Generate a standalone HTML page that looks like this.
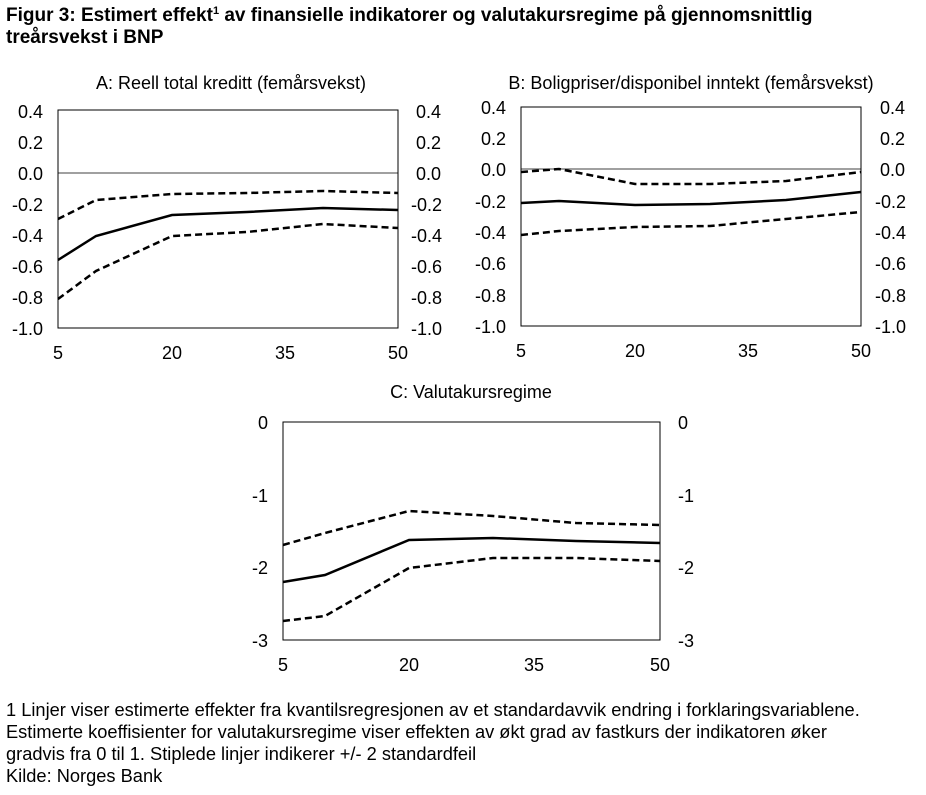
<!DOCTYPE html>
<html><head><meta charset="utf-8"><style>
body{margin:0;background:#fff;width:926px;height:790px;overflow:hidden;font-family:"Liberation Sans",Arial,sans-serif;}
</style></head><body>
<svg width="926" height="790" xmlns="http://www.w3.org/2000/svg" font-family="Liberation Sans, Arial, sans-serif">
<text x="6" y="21" font-size="19" font-weight="bold">Figur 3: Estimert effekt<tspan font-size="11" dy="-7">1</tspan><tspan dy="7"> av finansielle indikatorer og valutakursregime på gjennomsnittlig</tspan></text>
<text x="6" y="43" font-size="19" font-weight="bold">treårsvekst i BNP</text>

<!-- Panel A -->
<text x="231" y="89" font-size="18" text-anchor="middle">A: Reell total kreditt (femårsvekst)</text>
<rect x="58" y="110" width="340" height="218" fill="none" stroke="#000" stroke-width="1"/>
<line x1="58" y1="173" x2="398" y2="173" stroke="#000" stroke-width="0.8"/>
<g font-size="18" text-anchor="end">
<text x="43" y="118">0.4</text><text x="43" y="149">0.2</text><text x="43" y="180">0.0</text><text x="43" y="211">-0.2</text><text x="43" y="242">-0.4</text><text x="43" y="273">-0.6</text><text x="43" y="304">-0.8</text><text x="43" y="335">-1.0</text>
</g>
<g font-size="18">
<text x="416" y="118">0.4</text><text x="416" y="149">0.2</text><text x="416" y="180">0.0</text><text x="411" y="211">-0.2</text><text x="411" y="242">-0.4</text><text x="411" y="273">-0.6</text><text x="411" y="304">-0.8</text><text x="411" y="335">-1.0</text>
</g>
<g font-size="18" text-anchor="middle"><text x="58" y="359">5</text><text x="172" y="359">20</text><text x="285" y="359">35</text><text x="398" y="359">50</text></g>
<polyline points="58,260 96,236 172,215 247,212 323,208 398,210" fill="none" stroke="#000" stroke-width="2.5"/>
<polyline points="58,219 96,200 172,194 247,193 323,191 398,193" fill="none" stroke="#000" stroke-width="2.5" stroke-dasharray="7,4"/>
<polyline points="58,299 96,271 172,236 247,232 323,224 398,228" fill="none" stroke="#000" stroke-width="2.5" stroke-dasharray="7,4"/>

<!-- Panel B -->
<text x="691" y="89" font-size="18" text-anchor="middle">B: Boligpriser/disponibel inntekt (femårsvekst)</text>
<rect x="521" y="107" width="340" height="219" fill="none" stroke="#000" stroke-width="1"/>
<line x1="521" y1="169" x2="861" y2="169" stroke="#000" stroke-width="0.8"/>
<g font-size="18" text-anchor="end">
<text x="506" y="114">0.4</text><text x="506" y="145">0.2</text><text x="506" y="176">0.0</text><text x="506" y="208">-0.2</text><text x="506" y="239">-0.4</text><text x="506" y="270">-0.6</text><text x="506" y="302">-0.8</text><text x="506" y="333">-1.0</text>
</g>
<g font-size="18">
<text x="880" y="114">0.4</text><text x="880" y="145">0.2</text><text x="880" y="176">0.0</text><text x="875" y="208">-0.2</text><text x="875" y="239">-0.4</text><text x="875" y="270">-0.6</text><text x="875" y="302">-0.8</text><text x="875" y="333">-1.0</text>
</g>
<g font-size="18" text-anchor="middle"><text x="521" y="357">5</text><text x="635" y="357">20</text><text x="748" y="357">35</text><text x="861" y="357">50</text></g>
<polyline points="521,203 559,201 635,205 710,204 786,200 861,192" fill="none" stroke="#000" stroke-width="2.5"/>
<polyline points="521,172 559,169 635,184 710,184 786,181 861,172" fill="none" stroke="#000" stroke-width="2.5" stroke-dasharray="7,4"/>
<polyline points="521,235 559,231 635,227 710,226 786,219 861,212" fill="none" stroke="#000" stroke-width="2.5" stroke-dasharray="7,4"/>

<!-- Panel C -->
<text x="471" y="398" font-size="18" text-anchor="middle">C: Valutakursregime</text>
<rect x="283" y="422" width="377" height="218" fill="none" stroke="#000" stroke-width="1"/>
<g font-size="18" text-anchor="end">
<text x="268" y="429">0</text><text x="268" y="502">-1</text><text x="268" y="574">-2</text><text x="268" y="647">-3</text>
</g>
<g font-size="18">
<text x="678" y="429">0</text><text x="678" y="502">-1</text><text x="678" y="574">-2</text><text x="678" y="647">-3</text>
</g>
<g font-size="18" text-anchor="middle"><text x="283" y="671">5</text><text x="409" y="671">20</text><text x="534" y="671">35</text><text x="660" y="671">50</text></g>
<polyline points="283,582 325,575 409,540 493,538 576,541 660,543" fill="none" stroke="#000" stroke-width="2.5"/>
<polyline points="283,545 325,533 409,511 493,516 576,523 660,525" fill="none" stroke="#000" stroke-width="2.5" stroke-dasharray="7,4"/>
<polyline points="283,621 325,616 409,568 493,558 576,558 660,561" fill="none" stroke="#000" stroke-width="2.5" stroke-dasharray="7,4"/>

<g font-size="18.25">
<text x="6" y="716">1 Linjer viser estimerte effekter fra kvantilsregresjonen av et standardavvik endring i forklaringsvariablene.</text>
<text x="6" y="738">Estimerte koeffisienter for valutakursregime viser effekten av økt grad av fastkurs der indikatoren øker</text>
<text x="6" y="760">gradvis fra 0 til 1. Stiplede linjer indikerer +/- 2 standardfeil</text>
<text x="6" y="782">Kilde: Norges Bank</text>
</g>
</svg>
</body></html>
